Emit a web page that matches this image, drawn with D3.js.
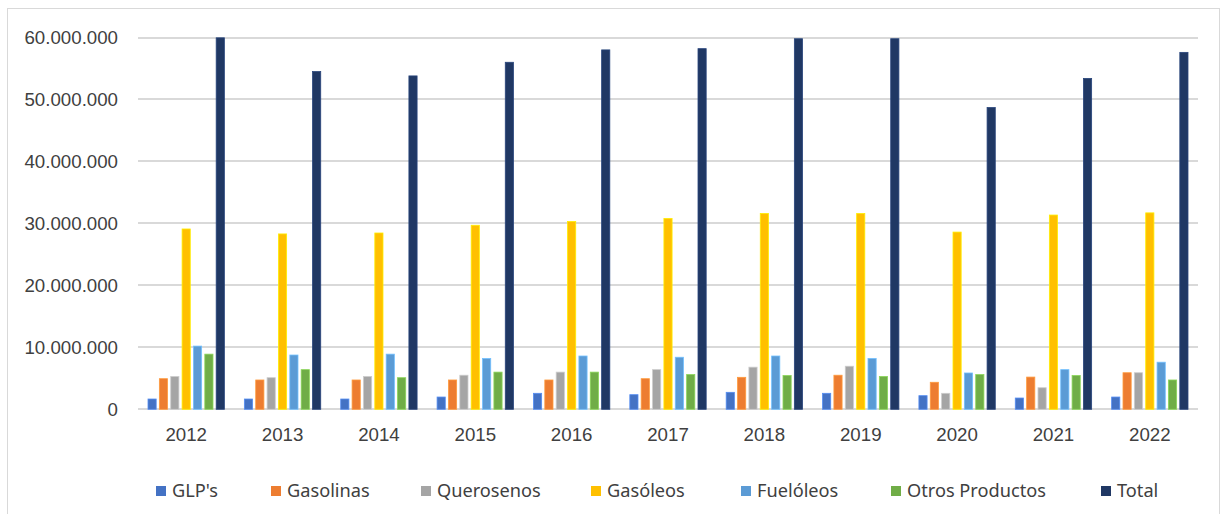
<!DOCTYPE html>
<html lang="es">
<head>
	<meta charset="utf-8">
	<title>Consumo por producto 2012-2022</title>
	<script src="https://d3js.org/d3.v7.min.js" charset="utf-8"></script>
	<style>
		body {
			margin: 0;
			background: #fff;
			font-family: "Noto Sans", "Open Sans", sans-serif;
		}
		.grid line {
			stroke: #d9d9d9;
			stroke-width: 2px;
		}
		.axis text {
			fill: #404040;
			font-size: 18.7px;
		}
		.legend text {
			fill: #404040;
			font-size: 18.2px;
		}
	</style>
</head>
<body>
<script>

	// years on the x axis
	var years = ["2012", "2013", "2014", "2015", "2016", "2017", "2018", "2019", "2020", "2021", "2022"];

	// series (units)
	var glp        = [1.66e6, 1.66e6, 1.66e6, 1.98e6, 2.58e6, 2.36e6, 2.74e6, 2.58e6, 2.20e6, 1.82e6, 1.98e6];
	var gasolinas  = [4.94e6, 4.73e6, 4.73e6, 4.73e6, 4.73e6, 4.94e6, 5.16e6, 5.50e6, 4.36e6, 5.20e6, 5.90e6];
	var querosenos = [5.30e6, 5.10e6, 5.30e6, 5.50e6, 6.00e6, 6.40e6, 6.80e6, 6.95e6, 2.58e6, 3.48e6, 5.90e6];
	var gasoleos   = [29.1e6, 28.3e6, 28.45e6, 29.7e6, 30.3e6, 30.8e6, 31.6e6, 31.6e6, 28.6e6, 31.35e6, 31.7e6];
	var fueloleos  = [10.2e6, 8.76e6, 8.9e6, 8.2e6, 8.6e6, 8.4e6, 8.6e6, 8.2e6, 5.86e6, 6.4e6, 7.6e6];
	var otros      = [8.9e6, 6.4e6, 5.1e6, 6.0e6, 6.0e6, 5.6e6, 5.45e6, 5.3e6, 5.6e6, 5.45e6, 4.73e6];
	var total      = [59.95e6, 54.5e6, 53.8e6, 56.0e6, 58.0e6, 58.2e6, 59.8e6, 59.8e6, 48.7e6, 53.4e6, 57.6e6];

	var seriesNames = ["GLP's", "Gasolinas", "Querosenos", "Gasóleos", "Fuelóleos", "Otros Productos", "Total"];
	var seriesValues = [glp, gasolinas, querosenos, gasoleos, fueloleos, otros, total];
	var seriesColors = ["#4472c4", "#ed7d31", "#a5a5a5", "#ffc000", "#5b9bd5", "#70ad47", "#203864"];

	var yTicks = [0, 10e6, 20e6, 30e6, 40e6, 50e6, 60e6];

	var width = 1222,
	    height = 514;

	var svg = d3.select("body")
	    .append("svg")
	    .attr("width", width)
	    .attr("height", height);

	// chart area border
	svg.append("rect")
	    .attr("x", 7.5)
	    .attr("y", 8.5)
	    .attr("width", 1212)
	    .attr("height", 510)
	    .attr("fill", "none")
	    .attr("stroke", "#d9d9d9");

	var plot = {left: 138, right: 1198, top: 37.5, bottom: 409.3};

	var y = d3.scaleLinear()
	    .domain([0, 60e6])
	    .range([plot.bottom, plot.top]);

	var x0 = d3.scaleBand()
	    .domain(years)
	    .range([plot.left, plot.right]);

	var x1 = d3.scaleBand()
	    .domain(d3.range(seriesNames.length))
	    .range([10, x0.bandwidth() - 10])
	    .paddingInner(0.28);

	// gridlines
	svg.append("g")
	    .attr("class", "grid")
	    .selectAll("line")
	    .data(yTicks)
	    .enter()
	    .append("line")
	    .attr("x1", plot.left)
	    .attr("x2", plot.right)
	    .attr("y1", function(d) { return Math.round(y(d)); })
	    .attr("y2", function(d) { return Math.round(y(d)); });

	// y axis labels (dots as thousands separator)
	var fmt = d3.formatLocale({decimal: ",", thousands: ".", grouping: [3], currency: ["", "€"]}).format(",.0f");

	var yAxis = d3.axisLeft(y)
	    .tickValues(yTicks)
	    .tickFormat(fmt)
	    .tickSize(0)
	    .tickPadding(20);

	svg.append("g")
	    .attr("class", "axis")
	    .attr("transform", "translate(" + plot.left + ",0)")
	    .call(yAxis)
	    .call(function(g) { g.select(".domain").remove(); });

	// bars
	var groups = svg.append("g")
	    .selectAll("g")
	    .data(years)
	    .enter()
	    .append("g")
	    .attr("transform", function(d) { return "translate(" + x0(d) + ",0)"; });

	groups.selectAll("rect")
	    .data(function(d, i) {
	        return seriesValues.map(function(vals, s) { return {s: s, v: vals[i]}; });
	    })
	    .enter()
	    .append("rect")
	    .attr("x", function(d) { return x1(d.s); })
	    .attr("width", x1.bandwidth())
	    .attr("y", function(d) { return y(d.v); })
	    .attr("height", function(d) { return y(0) - y(d.v); })
	    .attr("fill", function(d) { return seriesColors[d.s]; })
	    .attr("stroke", function(d) { return d3.color(seriesColors[d.s]).brighter(0.6); })
	    .attr("stroke-width", 0.8);

	// x axis labels
	var xAxis = d3.axisBottom(x0)
	    .tickSize(0)
	    .tickPadding(18);

	svg.append("g")
	    .attr("class", "axis")
	    .attr("transform", "translate(0," + plot.bottom + ")")
	    .call(xAxis)
	    .call(function(g) { g.select(".domain").remove(); });

	// legend
	var legendX = [156, 271, 421, 591, 741, 891, 1101];

	var legend = svg.append("g")
	    .attr("class", "legend")
	    .selectAll("g")
	    .data(seriesNames)
	    .enter()
	    .append("g")
	    .attr("transform", function(d, i) { return "translate(" + legendX[i] + ",491)"; });

	legend.append("rect")
	    .attr("x", 0)
	    .attr("y", -5)
	    .attr("width", 10)
	    .attr("height", 10)
	    .attr("fill", function(d, i) { return seriesColors[i]; });

	legend.append("text")
	    .attr("x", 16)
	    .attr("y", 0)
	    .attr("dy", "0.35em")
	    .text(function(d) { return d; });

</script>
</body>
</html>
